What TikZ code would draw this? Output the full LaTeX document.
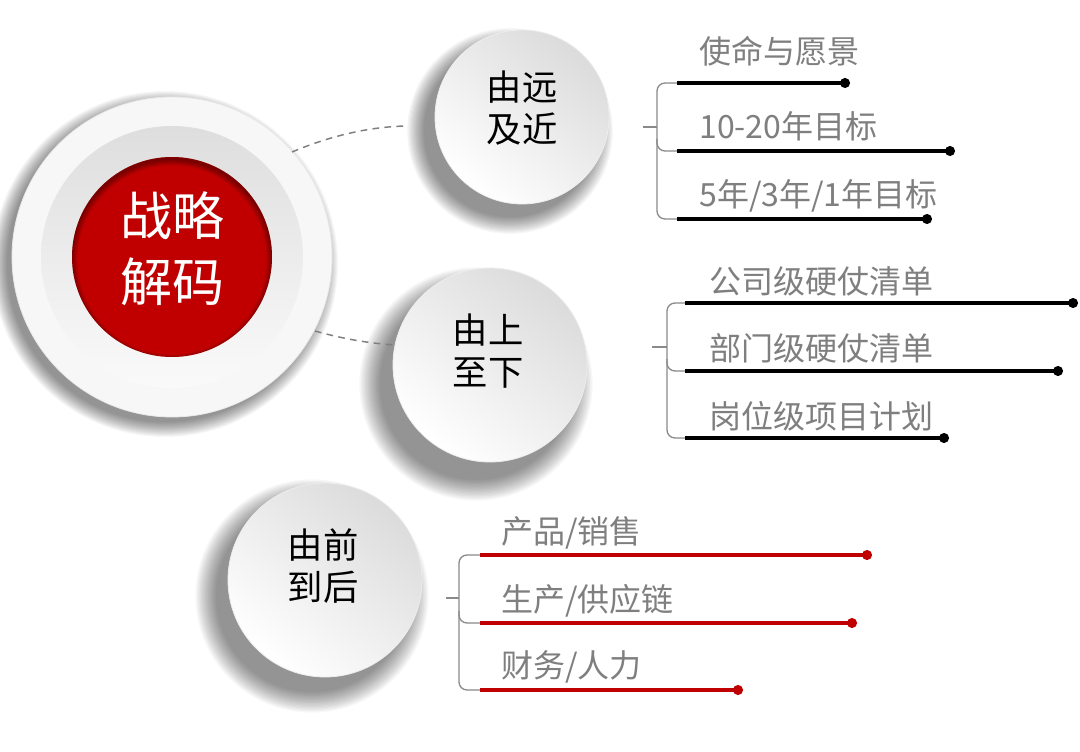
\documentclass[tikz,border=0pt]{standalone}
\usepackage{fontspec}
\setmainfont{Noto Sans CJK SC}
\usetikzlibrary{calc}
\definecolor{cred}{HTML}{C00000}
\definecolor{cgray}{HTML}{7F7F7F}
\definecolor{lgray}{HTML}{8A8A8A}
\newcommand{\mkshadow}[3]{%
  \foreach \k in {1,...,16}{\fill[black,opacity=0.03] (#1) circle[radius={(#2+#3-\k*#3/16)*0.75pt}];}}
\begin{document}
\begin{tikzpicture}[x=0.75pt,y=-0.75pt,
 every node/.style={inner sep=0pt},
 itemtext/.style={anchor=west, text=cgray, font=\fontsize{24}{28}\selectfont, text height=0.88em, text depth=0.12em},
 brk/.style={draw=lgray, line width=1pt, rounded corners=6pt},
 bline/.style={line width=2.7pt, black},
 rline/.style={line width=2.7pt, cred},
 bdot/.style={fill=black},
 rdot/.style={fill=cred},
 dashc/.style={draw=cgray, line width=1.1pt, dash pattern=on 5pt off 4pt},
 bubble/.style={circle, top color=black!14, bottom color=white, shading angle=-40, draw=black!7, line width=0.6pt},
 bubtext/.style={align=center, font=\fontsize{26.5}{31.5}\selectfont},
]
\useasboundingbox (0,0) rectangle (1080,752);
\fill[white] (0,0) rectangle (1080,752);

% ---------- shadows ----------
\mkshadow{165,264}{158}{16}
\mkshadow{510,131}{86}{18}
\mkshadow{476,384}{96}{22}
\mkshadow{312,596}{96}{22}

% ---------- main circle ----------
\coordinate (mc) at (172,257);
\fill[white!97!black, draw=black!9, line width=0.6pt] (mc) circle[radius=160*0.75pt];
\shade[top color=black!13, bottom color=black!2] (mc) circle[radius=131*0.75pt];
\fill[cred] (mc) circle[radius=100*0.75pt];
\begin{scope}
  \clip (mc) circle[radius=100*0.75pt];
  \foreach \k in {1,...,6}{\draw[black, opacity=0.07, line width={\k*1.6pt}] ($(mc)+(0,3)$) circle[radius=101*0.75pt];}
\end{scope}
\node[text=white, align=center, font=\fontsize{39}{49.5}\selectfont] (main) at (172,249) {战略\\解码};

% ---------- bubbles ----------
\node[bubble, minimum size=130.5pt] (b1) at (522,117) {};
\node[bubble, minimum size=145.5pt] (b2) at (490,365) {};
\node[bubble, minimum size=145.5pt] (b3) at (325,580) {};
\node[bubtext] (l1) at ($(b1)+(0,-9)$) {由远\\及近};
\node[bubtext] (l2) at ($(b2)+(-2,-14)$) {由上\\至下};
\node[bubtext] (l3) at ($(b3)+(-2,-14)$) {由前\\到后};

% ---------- dashed connectors ----------
\coordinate (d1a) at (292,152);
\coordinate (d1b) at (405,126);
\coordinate (d2a) at (315,331);
\coordinate (d2b) at (394,345);
\draw[dashc] (d1a) .. controls (330,136) and (368,127) .. (d1b);
\draw[dashc] (d2a) .. controls (340,338) and (366,343) .. (d2b);

% ---------- group 1 ----------
\coordinate (g1s) at (643,127);
\coordinate (g1v) at (657,127);
\draw[brk] (g1s) -- (g1v);
\draw[brk] (677,83) -| (657,219) -- (677,219);
\draw[brk] (657,139) |- (677,151);
\coordinate (a1) at (677,83);  \coordinate (e1) at (845,83);
\coordinate (a2) at (677,151); \coordinate (e2) at (950,151);
\coordinate (a3) at (677,219); \coordinate (e3) at (927,219);
\draw[bline] (a1) -- (e1); \fill[bdot] (e1) circle[radius=3.8pt];
\draw[bline] (a2) -- (e2); \fill[bdot] (e2) circle[radius=3.8pt];
\draw[bline] (a3) -- (e3); \fill[bdot] (e3) circle[radius=3.8pt];
\node[itemtext] (t11) at (699,58) {使命与愿景};
\node[itemtext] (t12) at (699,133) {10-20年目标};
\node[itemtext] (t13) at (699,201) {5年/3年/1年目标};

% ---------- group 2 ----------
\coordinate (g2s) at (652,347);
\coordinate (g2v) at (667,347);
\draw[brk] (g2s) -- (g2v);
\draw[brk] (685,303) -| (667,438) -- (685,438);
\draw[brk] (667,359) |- (685,371);
\coordinate (p1) at (685,303); \coordinate (q1) at (1073,303);
\coordinate (p2) at (685,371); \coordinate (q2) at (1058,371);
\coordinate (p3) at (685,438); \coordinate (q3) at (944,438);
\draw[bline] (p1) -- (q1); \fill[bdot] (q1) circle[radius=3.8pt];
\draw[bline] (p2) -- (q2); \fill[bdot] (q2) circle[radius=3.8pt];
\draw[bline] (p3) -- (q3); \fill[bdot] (q3) circle[radius=3.8pt];
\node[itemtext] (t21) at (709,288) {公司级硬仗清单};
\node[itemtext] (t22) at (709,355) {部门级硬仗清单};
\node[itemtext] (t23) at (709,423) {岗位级项目计划};

% ---------- group 3 ----------
\coordinate (g3s) at (446,598);
\coordinate (g3v) at (459,598);
\draw[brk] (g3s) -- (g3v);
\draw[brk] (480,555) -| (459,690) -- (480,690);
\draw[brk] (459,611) |- (480,623);
\coordinate (u1) at (480,555); \coordinate (v1) at (867,555);
\coordinate (u2) at (480,623); \coordinate (v2) at (852,623);
\coordinate (u3) at (480,690); \coordinate (v3) at (738,690);
\draw[rline] (u1) -- (v1); \fill[rdot] (v1) circle[radius=3.8pt];
\draw[rline] (u2) -- (v2); \fill[rdot] (v2) circle[radius=3.8pt];
\draw[rline] (u3) -- (v3); \fill[rdot] (v3) circle[radius=3.8pt];
\node[itemtext] (t31) at (501,538) {产品/销售};
\node[itemtext] (t32) at (501,606) {生产/供应链};
\node[itemtext] (t33) at (501,672) {财务/人力};
\end{tikzpicture}
\end{document}
